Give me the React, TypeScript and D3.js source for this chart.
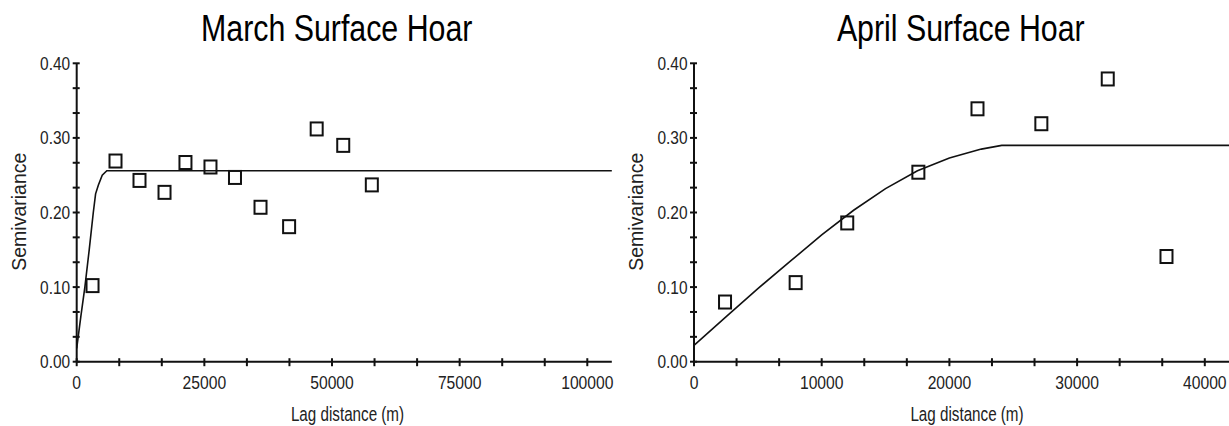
import React from 'react';
import * as d3 from 'd3';

const marchLag = [3100, 7600, 12300, 17200, 21300, 26200, 31000, 36000, 41600, 47000, 52200, 57800];
const marchGamma = [0.102, 0.269, 0.243, 0.227, 0.267, 0.261, 0.247, 0.207, 0.181, 0.312, 0.29, 0.237];
// fitted model line, as traced
const marchModelLag = [0, 800, 1600, 2450, 3250, 3700, 4250, 5000, 5900, 104800];
const marchModelGamma = [0.018, 0.06, 0.1, 0.15, 0.2, 0.225, 0.237, 0.25, 0.256, 0.256];

const aprilLag = [2430, 7960, 12000, 17570, 22200, 27200, 32400, 37000];
const aprilGamma = [0.08, 0.106, 0.186, 0.254, 0.339, 0.319, 0.379, 0.141];
const aprilModelLag = [0, 2500, 5000, 7500, 10000, 12500, 15000, 17500, 20000, 22500, 24100, 42000];
const aprilModelGamma = [0.022, 0.06, 0.098, 0.134, 0.17, 0.203, 0.232, 0.256, 0.273, 0.285, 0.29, 0.29];

const yTicks = [0, 0.1, 0.2, 0.3, 0.4];
const marchXTicks = [0, 25000, 50000, 75000, 100000];
const aprilXTicks = [0, 10000, 20000, 30000, 40000];

const FONT = 'Liberation Sans, Arial, sans-serif';

interface PanelProps {
  title: string;
  lag: number[];
  gamma: number[];
  modelLag: number[];
  modelGamma: number[];
  xTicks: number[];
  xStep: number; // major tick spacing
  xMax: number; // where the axis line stops
  x0: number; // pixel of lag 0
  xUnit: number; // pixels per major step
  titleX: number;
  labelX: number;
}

const Panel: React.FC<PanelProps> = (p) => {
  const x = d3.scaleLinear().domain([0, p.xStep]).range([p.x0, p.x0 + p.xUnit]);
  const y = d3.scaleLinear().domain([0, 0.4]).range([361.7, 63.3]);

  const minorX = d3.range(0, p.xMax, p.xStep / 3);
  const minorY = d3.range(0, 0.4001, 0.1 / 3);

  const line = d3.line<number>()
    .x((_, i) => x(p.modelLag[i]))
    .y((d) => y(d));

  const fmtY = d3.format('.2f');

  return (
    <g fontFamily={FONT}>
      <text transform={`translate(${p.titleX},40.5) scale(0.82,1)`} textAnchor="middle" fontSize={37} fill="#000">
        {p.title}
      </text>

      {/* axes */}
      <line x1={x(0)} x2={x(0)} y1={y(0.4)} y2={y(0)} stroke="#111" strokeWidth={2} />
      <line x1={x(0)} x2={x(p.xMax)} y1={y(0)} y2={y(0)} stroke="#111" strokeWidth={2} />
      {minorY.map((t, i) => (
        <line key={'yt' + i} x1={x(0) - 4} x2={x(0) + 3} y1={y(t)} y2={y(t)} stroke="#111" strokeWidth={2} />
      ))}
      {minorX.map((t, i) => (
        <line key={'xt' + i} x1={x(t)} x2={x(t)} y1={y(0) - 3.5} y2={y(0) + 4.5} stroke="#111" strokeWidth={2} />
      ))}
      {yTicks.map((t) => (
        <text key={'yl' + t} transform={`translate(${x(0) - 6.5},${y(t) + 6.5}) scale(0.86,1)`} textAnchor="end" fontSize={18} fill="#222">
          {fmtY(t)}
        </text>
      ))}
      {p.xTicks.map((t) => (
        <text key={'xl' + t} transform={`translate(${x(t)},389) scale(0.87,1)`} textAnchor="middle" fontSize={18} fill="#222">
          {t}
        </text>
      ))}

      <text transform={`translate(${p.labelX},420.5) scale(0.78,1)`} textAnchor="middle" fontSize={19.5} fill="#222">
        Lag distance (m)
      </text>
      <text transform={`translate(${x(0) - 51},211.7) rotate(-90)`} textAnchor="middle" fontSize={19.5} fill="#222">
        Semivariance
      </text>

      {/* model */}
      <path d={line(p.modelGamma) ?? ''} fill="none" stroke="#111" strokeWidth={1.6} />

      {/* points */}
      {p.lag.map((l, i) => (
        <rect key={'pt' + i} x={x(l) - 6} y={y(p.gamma[i]) - 6.5} width={12} height={13} fill="none" stroke="#111" strokeWidth={2} />
      ))}
    </g>
  );
};

const App: React.FC = () => (
  <svg width={1229} height={426} style={{ position: 'absolute', left: 0, top: 0, background: '#fff' }}>
    <Panel
      title="March Surface Hoar"
      lag={marchLag}
      gamma={marchGamma}
      modelLag={marchModelLag}
      modelGamma={marchModelGamma}
      xTicks={marchXTicks}
      xStep={25000}
      xMax={104800}
      x0={76.7}
      xUnit={127.65}
      titleX={336.7}
      labelX={347.5}
    />
    <Panel
      title="April Surface Hoar"
      lag={aprilLag}
      gamma={aprilGamma}
      modelLag={aprilModelLag}
      modelGamma={aprilModelGamma}
      xTicks={aprilXTicks}
      xStep={10000}
      xMax={42000}
      x0={694}
      xUnit={127.7}
      titleX={960.8}
      labelX={967}
    />
  </svg>
);

export default App;
